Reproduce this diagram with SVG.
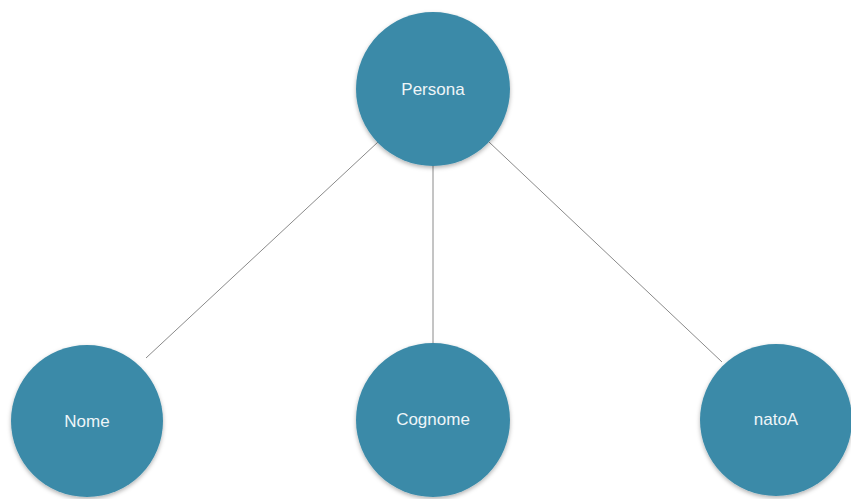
<svg xmlns="http://www.w3.org/2000/svg" width="851" height="499" viewBox="0 0 851 499">
<defs>
<filter id="sh" x="-20%" y="-20%" width="140%" height="140%">
<feDropShadow dx="0" dy="2" stdDeviation="2" flood-color="#000" flood-opacity="0.3"/>
</filter>
<style>
.n{fill:#3b8aa8;filter:url(#sh)}
.t{fill:#eef5f8;font-family:"Liberation Sans",Arial,sans-serif;font-size:17px;text-anchor:middle;dominant-baseline:central}
.c{stroke:#8a8a8a;stroke-width:1;fill:none}
</style>
</defs>
<rect width="851" height="499" fill="#fff"/>
<g id="connectors">
<line class="c" x1="378" y1="142" x2="146" y2="358"/>
<line class="c" x1="433" y1="165" x2="433" y2="344"/>
<line class="c" x1="489" y1="142" x2="722" y2="362"/>
</g>
<g id="persona"><circle class="n" cx="433" cy="89" r="77"/><text class="t" x="433" y="89">Persona</text></g>
<g id="nome"><circle class="n" cx="87" cy="421" r="76"/><text class="t" x="87" y="421">Nome</text></g>
<g id="cognome"><circle class="n" cx="433" cy="420" r="77"/><text class="t" x="433" y="419">Cognome</text></g>
<g id="natoA"><circle class="n" cx="776" cy="420" r="76"/><text class="t" x="776" y="419">natoA</text></g>
</svg>
